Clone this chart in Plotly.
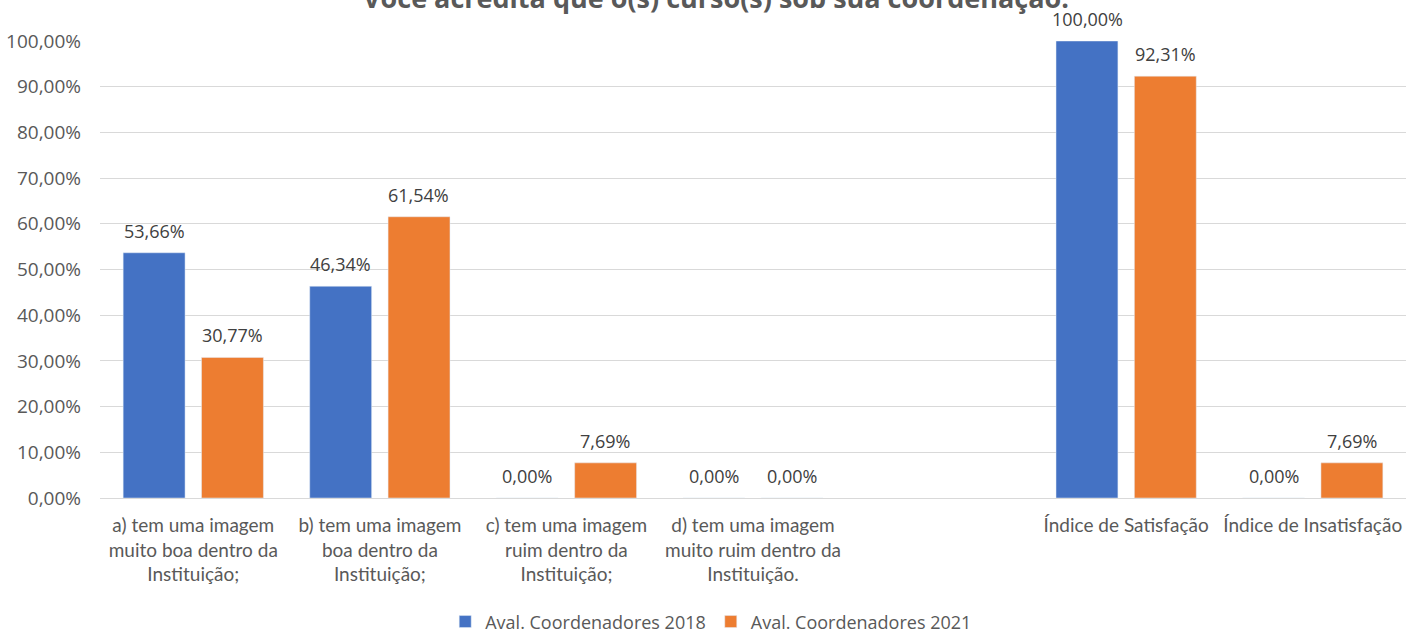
import plotly.graph_objects as go

categories = [
    "a) tem uma imagem<br>muito boa dentro da<br>Instituição;",
    "b) tem uma imagem<br>boa dentro da<br>Instituição;",
    "c) tem uma imagem<br>ruim dentro da<br>Instituição;",
    "d) tem uma imagem<br>muito ruim dentro da<br>Instituição.",
    " ",
    "Índice de Satisfação",
    "Índice de Insatisfação",
]
vals_2018 = [53.66, 46.34, 0.00, 0.00, None, 100.00, 0.00]
vals_2021 = [30.77, 61.54, 7.69, 0.00, None, 92.31, 7.69]
series_names = ["Aval. Coordenadores 2018", "Aval. Coordenadores 2021"]
colors = ["#4472C4", "#ED7D31"]
title_text = "Você acredita que o(s) curso(s) sob sua coordenação:"
ytick_vals = list(range(0, 101, 10))
ytick_text = [f"{v},00%" for v in ytick_vals]


def fmt(v):
    return f"{v:.2f}%".replace(".", ",")


fig = go.Figure()
for name, vals, col in zip(series_names, [vals_2018, vals_2021], colors):
    fig.add_trace(go.Bar(x=categories, y=vals, name=name, marker_color=col))

# data labels, placed above each bar of the grouped pair
label_annots = []
for vals, dx in zip([vals_2018, vals_2021], [-39, 39]):
    for cat, v in zip(categories, vals):
        if v is None:
            continue
        label_annots.append(dict(
            x=cat, y=v, xref="x", yref="y", text=fmt(v), showarrow=False,
            xshift=dx, yshift=22, yanchor="middle",
            font=dict(family="Open Sans", size=18, color="#404040")))

fig.update_layout(
    width=1419, height=633,
    paper_bgcolor="white", plot_bgcolor="white",
    margin=dict(l=100, r=13, t=41, b=135, autoexpand=False),
    barmode="group", bargap=0.16, bargroupgap=0.21,
    showlegend=True,
    legend=dict(orientation="h", x=0.468, xanchor="center", y=-0.271, yanchor="middle",
                font=dict(family="Open Sans", size=18, color="#595959"),
                itemwidth=30, traceorder="normal"),
    annotations=label_annots + [dict(
        text=f"<b>{title_text}</b>", xref="paper", yref="paper",
        x=0.472, y=1, yanchor="middle", yshift=44, showarrow=False,
        font=dict(family="Open Sans", size=27, color="#595959"))],
)
fig.update_xaxes(type="category", categoryorder="array", categoryarray=categories,
                 tickfont=dict(family="Lato", size=19, color="#595959"),
                 showline=True, linecolor="#d9d9d9", ticks="", ticklabelstandoff=10,
                 automargin=False)
fig.update_yaxes(range=[0, 100], tickvals=ytick_vals, ticktext=ytick_text,
                 showgrid=True, gridcolor="#d9d9d9", gridwidth=1, zeroline=False,
                 tickfont=dict(family="Open Sans", size=19, color="#595959"),
                 ticklabelstandoff=18, automargin=False)

fig.write_html("out.html", config={"displayModeBar": False},
               post_script="document.body.style.margin='0';")
